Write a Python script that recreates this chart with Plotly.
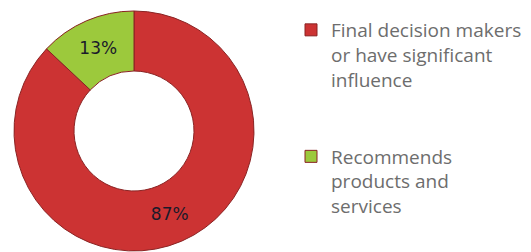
import plotly.graph_objects as go

labels = ["Final decision makers<br>or have significant<br>influence<br> <br> ",
          "Recommends<br>products and<br>services"]
values = [87, 13]
text_labels = ["87%", "13%"]
colors = ["#CC3333", "#9CC93C"]

fig = go.Figure(go.Pie(
    labels=labels,
    values=values,
    text=text_labels,
    textinfo="text",
    textposition="inside",
    insidetextorientation="horizontal",
    insidetextfont=dict(family="DejaVu Sans", size=17, color="#1a1a2a"),
    hole=0.5,
    sort=False,
    direction="clockwise",
    rotation=0,
    marker=dict(colors=colors, line=dict(color="#8a2323", width=1)),
    domain=dict(x=[5/531, 247/531], y=[9/252, 249/252]),
))

fig.update_layout(
    width=531, height=252,
    margin=dict(l=0, r=0, t=0, b=0),
    paper_bgcolor="white",
    showlegend=True,
    legend=dict(
        x=283/531, y=1 - 3/252, xanchor="left", yanchor="top",
        font=dict(family="Open Sans", size=19, color="#6d6d6d"),
        valign="top",
        bgcolor="rgba(0,0,0,0)",
        itemclick=False,
    ),
)

fig.write_html("out.html")
